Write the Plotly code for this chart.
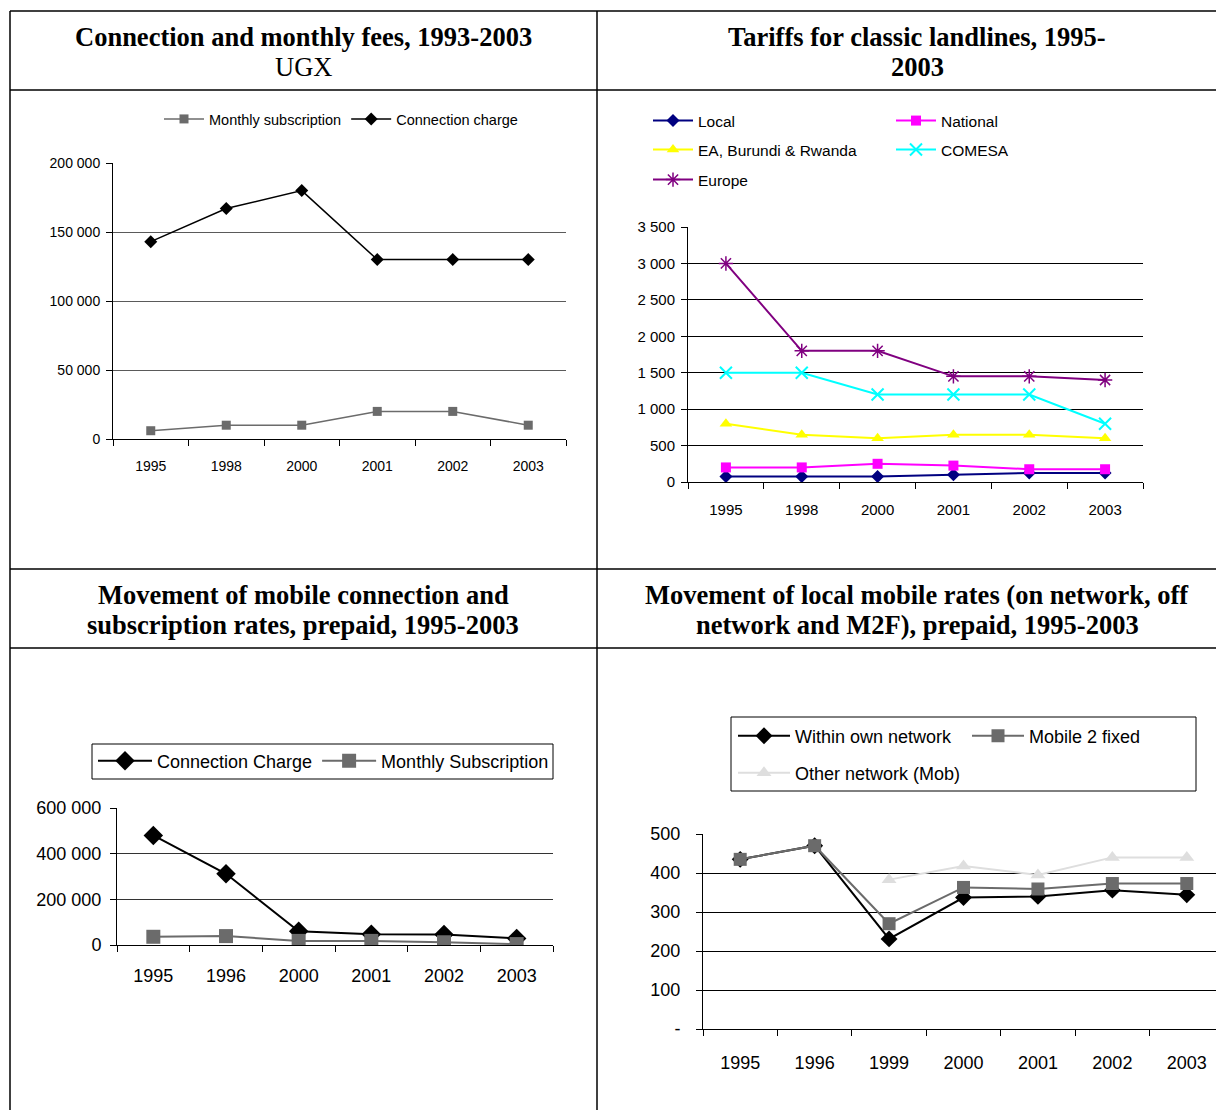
import plotly.graph_objects as go

# The page shows the figure 8 px in from the top-left corner (body margin),
# so the figure is 8 px smaller and every reference position is shifted by -8.
OFF = 8
W, H = 1224 - OFF, 1110 - OFF

# ---------------- data ----------------
p1_years = ["1995", "1998", "2000", "2001", "2002", "2003"]
p1_monthly = [6000, 10000, 10000, 20000, 20000, 10000]
p1_connection = [143000, 167000, 180000, 130000, 130000, 130000]

p2_years = ["1995", "1998", "2000", "2001", "2002", "2003"]
p2_local = [75, 75, 75, 100, 125, 125]
p2_national = [200, 200, 250, 225, 175, 175]
p2_ea = [800, 650, 600, 650, 650, 600]
p2_comesa = [1500, 1500, 1200, 1200, 1200, 800]
p2_europe = [3000, 1800, 1800, 1450, 1450, 1400]

p3_years = ["1995", "1996", "2000", "2001", "2002", "2003"]
p3_connection = [480000, 312000, 60000, 47000, 46000, 29000]
p3_monthly = [36000, 39000, 18000, 18000, 12000, 4000]

p4_years = ["1995", "1996", "1999", "2000", "2001", "2002", "2003"]
p4_within = [435, 470, 231, 337, 340, 356, 344]
p4_m2f = [435, 470, 270, 363, 359, 373, 373]
p4_other = [None, None, 383, 418, 395, 440, 440]

title_lines = [
    ("<b>Connection and monthly fees, 1993-2003</b>", "UGX"),
    ("<b>Tariffs for classic landlines, 1995-</b>", "<b>2003</b>"),
    ("<b>Movement of mobile connection and</b>", "<b>subscription rates, prepaid, 1995-2003</b>"),
    ("<b>Movement of local mobile rates (on network, off</b>", "<b>network and M2F), prepaid, 1995-2003</b>"),
]

SANS = "Liberation Sans, Arial, sans-serif"
SERIF = "Liberation Serif, Times New Roman, serif"


def px(x):
    return min(max((x - OFF) / W, 0.0), 1.0)


def py(y):
    return min(max(1 - (y - OFF) / H, 0.0), 1.0)


fig = go.Figure()

# ---- Panel 1 ----
fig.add_trace(go.Scatter(x=p1_years, y=p1_monthly, name="Monthly subscription",
                         mode="lines+markers", line=dict(color="#6b6b6b", width=1.5),
                         marker=dict(symbol="square", size=9, color="#6b6b6b"),
                         xaxis="x", yaxis="y", legend="legend"))
fig.add_trace(go.Scatter(x=p1_years, y=p1_connection, name="Connection charge",
                         mode="lines+markers", line=dict(color="black", width=1.5),
                         marker=dict(symbol="diamond", size=10, color="black"),
                         xaxis="x", yaxis="y", legend="legend"))

# ---- Panel 2 ----
fig.add_trace(go.Scatter(x=p2_years, y=p2_local, name="Local", mode="lines+markers",
                         line=dict(color="#000080", width=2),
                         marker=dict(symbol="diamond", size=10, color="#000080"),
                         xaxis="x2", yaxis="y2", legend="legend2"))
fig.add_trace(go.Scatter(x=p2_years, y=p2_national, name="National", mode="lines+markers",
                         line=dict(color="#FF00FF", width=2),
                         marker=dict(symbol="square", size=10, color="#FF00FF"),
                         xaxis="x2", yaxis="y2", legend="legend2"))
fig.add_trace(go.Scatter(x=p2_years, y=p2_ea, name="EA, Burundi &amp; Rwanda", mode="lines+markers",
                         line=dict(color="#FFFF00", width=2),
                         marker=dict(symbol="triangle-up", size=11, color="#FFFF00"),
                         xaxis="x2", yaxis="y2", legend="legend5"))
fig.add_trace(go.Scatter(x=p2_years, y=p2_comesa, name="COMESA", mode="lines+markers",
                         line=dict(color="#00FFFF", width=2),
                         marker=dict(symbol="x-thin-open", size=12, color="#00FFFF",
                                     line=dict(color="#00FFFF", width=2)),
                         xaxis="x2", yaxis="y2", legend="legend5"))
fig.add_trace(go.Scatter(x=p2_years, y=p2_europe, name="Europe", mode="lines+markers",
                         line=dict(color="#800080", width=2),
                         marker=dict(symbol="asterisk-open", size=12, color="#800080",
                                     line=dict(color="#800080", width=1.5)),
                         xaxis="x2", yaxis="y2", legend="legend6"))

# ---- Panel 3 ----
fig.add_trace(go.Scatter(x=p3_years, y=p3_connection, name="Connection Charge", mode="lines+markers",
                         line=dict(color="black", width=2),
                         marker=dict(symbol="diamond", size=15, color="black"),
                         xaxis="x3", yaxis="y3", legend="legend3"))
fig.add_trace(go.Scatter(x=p3_years, y=p3_monthly, name="Monthly Subscription", mode="lines+markers",
                         line=dict(color="#6b6b6b", width=2),
                         marker=dict(symbol="square", size=14, color="#6b6b6b"),
                         xaxis="x3", yaxis="y3", legend="legend3"))

# ---- Panel 4 ----
fig.add_trace(go.Scatter(x=p4_years, y=p4_within, name="Within own network", mode="lines+markers",
                         line=dict(color="black", width=2),
                         marker=dict(symbol="diamond", size=13, color="black"),
                         xaxis="x4", yaxis="y4", legend="legend4"))
fig.add_trace(go.Scatter(x=p4_years, y=p4_m2f, name="Mobile 2 fixed", mode="lines+markers",
                         line=dict(color="#6b6b6b", width=2),
                         marker=dict(symbol="square", size=13, color="#6b6b6b"),
                         xaxis="x4", yaxis="y4", legend="legend4"))
fig.add_trace(go.Scatter(x=p4_years, y=p4_other, name="Other network (Mob)", mode="lines+markers",
                         line=dict(color="#dedede", width=2),
                         marker=dict(symbol="triangle-up", size=13, color="#dedede"),
                         xaxis="x4", yaxis="y4", legend="legend7"))


def xax(dom, y0, ncat, fs, standoff):
    return dict(domain=dom, anchor=y0, type="category", range=[-0.5, ncat - 0.5],
                showline=True, linecolor="black",
                linewidth=1, ticks="outside", ticklen=6, tickcolor="black", tickson="boundaries",
                showgrid=False, zeroline=False, tickfont=dict(family=SANS, size=fs, color="black"),
                ticklabelstandoff=standoff, fixedrange=True)


def yax(dom, x0, rng, dtick, fs, standoff, grid_color="black", **kw):
    d = dict(domain=dom, anchor=x0, range=rng, dtick=dtick, showline=True, linecolor="black",
             linewidth=1, ticks="outside", ticklen=6, tickcolor="black", showgrid=True,
             gridcolor=grid_color, gridwidth=1, zeroline=False, tickformat=",d",
             tickfont=dict(family=SANS, size=fs, color="black"), ticklabelstandoff=standoff,
             fixedrange=True)
    d.update(kw)
    return d


def leg(x, y, fs, iw, ew=0):
    d = dict(orientation="h", x=px(x), y=py(y), xanchor="left", yanchor="middle",
             font=dict(family=SANS, size=fs, color="black"), bgcolor="rgba(0,0,0,0)",
             borderwidth=0, itemwidth=iw, tracegroupgap=0, itemclick=False, itemdoubleclick=False)
    if ew:
        d["entrywidth"] = ew
    return d


p1x = [px(113), px(566)]
p1y = [py(439), py(163)]
p2x = [px(688), px(1143)]
p2y = [py(482), py(227)]
p3x = [px(117), px(553)]
p3y = [py(945), py(808)]
p4x = [px(703), 1.0]
p4y = [py(1029), py(834)]

shapes = []
for yy in [11, 90, 569, 648]:
    shapes.append(dict(type="line", xref="paper", yref="paper", x0=px(10), x1=1.0,
                       y0=py(yy), y1=py(yy), line=dict(color="black", width=1.5)))
for xx in [10, 597]:
    shapes.append(dict(type="line", xref="paper", yref="paper", x0=px(xx), x1=px(xx),
                       y0=py(11), y1=0, line=dict(color="black", width=1.5)))
# legend boxes (panels 3 and 4)
for (x0, y0, x1, y1) in [(92, 744, 553, 779), (731, 717, 1196, 791)]:
    shapes.append(dict(type="rect", xref="paper", yref="paper", x0=px(x0), x1=px(x1),
                       y0=py(y1), y1=py(y0), line=dict(color="black", width=1),
                       fillcolor="rgba(0,0,0,0)", layer="below"))

annotations = []
for (cx, cy1, cy2), (l1, l2) in zip([(303, 37, 67), (917, 37, 67), (303, 595, 625), (917, 595, 625)],
                                   title_lines):
    for cy, t in [(cy1, l1), (cy2, l2)]:
        annotations.append(dict(text=t, xref="paper", yref="paper", x=px(cx), y=py(cy),
                                xanchor="center", yanchor="middle", showarrow=False,
                                font=dict(family=SERIF, size=26.5, color="black")))

fig.update_layout(
    width=W, height=H, margin=dict(l=0, r=0, t=0, b=0, autoexpand=False),
    paper_bgcolor="white", plot_bgcolor="white", separators=". ",
    font=dict(family=SANS, color="black"),
    shapes=shapes, annotations=annotations,
    xaxis=xax(p1x, "y", len(p1_years), 14, 14),
    yaxis=yax(p1y, "x", [0, 200000], 50000, 14, 3, grid_color="#5a5a5a"),
    xaxis2=xax(p2x, "y2", len(p2_years), 15, 14),
    yaxis2=yax(p2y, "x2", [0, 3500], 500, 15, 3),
    xaxis3=xax(p3x, "y3", len(p3_years), 18, 14),
    yaxis3=yax(p3y, "x3", [0, 600000], 200000, 18, 5, grid_color="#333333"),
    xaxis4=xax(p4x, "y4", len(p4_years), 18, 17),
    yaxis4=yax(p4y, "x4", [0, 500], 100, 18, 12,
               tickmode="array", tickvals=[0, 100, 200, 300, 400, 500],
               ticktext=["-", "100", "200", "300", "400", "500"]),
    legend=leg(159, 119, 14.5, 40),
    legend2=leg(648, 121, 15.5, 40, 188),
    legend5=leg(648, 150, 15.5, 40, 188),
    legend6=leg(648, 180, 15.5, 40, 188),
    legend3=leg(93, 761, 18, 54),
    legend4=leg(733, 736, 18, 52, 167),
    legend7=leg(733, 773, 18, 52, 167),
)

fig.write_html("out.html")
